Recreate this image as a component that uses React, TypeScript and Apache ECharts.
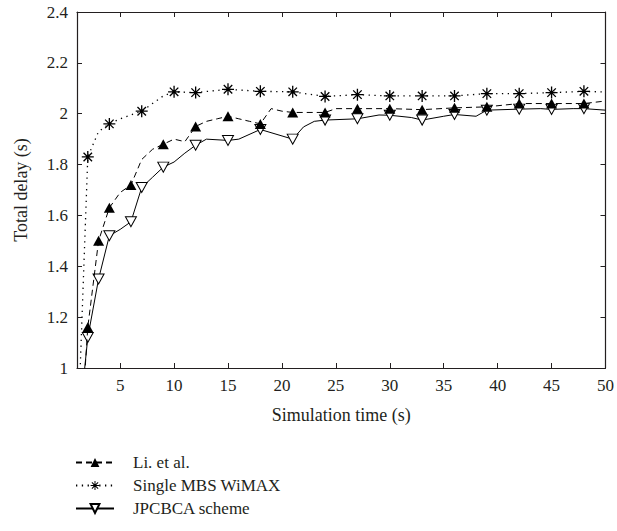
import React, { useEffect, useRef } from "react";
import * as echarts from "echarts";

// ---- data ----
const xTicks = [5, 10, 15, 20, 25, 30, 35, 40, 45, 50];
const yTicks = [1, 1.2, 1.4, 1.6, 1.8, 2, 2.2, 2.4];

const liName = "Li. et al.";
const liX = [1, 2, 3, 4, 5, 6, 7, 8, 9, 10, 11, 12, 13, 14, 15, 16, 17, 18, 19, 20, 21, 24, 25, 27, 30, 33, 36, 39, 42, 45, 48, 50];
const liY = [0.5, 1.16, 1.5, 1.63, 1.69, 1.72, 1.82, 1.86, 1.88, 1.9, 1.89, 1.95, 1.97, 1.98, 1.99, 1.98, 1.97, 1.96, 2.02, 2.01, 2.005, 2.005, 2.02, 2.02, 2.02, 2.016, 2.023, 2.027, 2.04, 2.04, 2.04, 2.05];
const liMarks = [2, 3, 4, 6, 9, 12, 15, 18, 21, 24, 27, 30, 33, 36, 39, 42, 45, 48];

const mbsName = "Single MBS WiMAX";
const mbsX = [1, 2, 3, 4, 5, 6, 7, 8, 9, 10, 12, 15, 18, 21, 24, 27, 30, 33, 36, 39, 42, 45, 48, 50];
const mbsY = [0.65, 1.83, 1.93, 1.96, 1.98, 1.995, 2.01, 2.04, 2.07, 2.086, 2.083, 2.096, 2.088, 2.086, 2.068, 2.075, 2.07, 2.07, 2.07, 2.079, 2.079, 2.083, 2.088, 2.085];
const mbsMarks = [2, 4, 7, 10, 12, 15, 18, 21, 24, 27, 30, 33, 36, 39, 42, 45, 48];

const jpName = "JPCBCA scheme";
const jpX = [1, 2, 3, 4, 5, 6, 7, 8, 9, 10, 11, 12, 13, 15, 16, 18, 21, 22, 23, 24, 27, 29, 30, 32, 33, 35, 36, 38, 39, 42, 44, 45, 47, 48, 50];
const jpY = [0.7, 1.12, 1.35, 1.52, 1.545, 1.575, 1.71, 1.75, 1.79, 1.81, 1.845, 1.876, 1.9, 1.895, 1.9, 1.938, 1.9, 1.948, 1.97, 1.975, 1.98, 1.995, 1.994, 1.985, 1.975, 1.99, 1.997, 1.99, 2.014, 2.018, 2.02, 2.017, 2.02, 2.02, 2.014];
const jpMarks = [2, 3, 4, 6, 7, 9, 12, 15, 18, 21, 24, 27, 30, 33, 36, 39, 42, 45, 48];

const FONT = "Liberation Serif";
const INK = "#231f20";

const ASTERISK =
  "path://M8.9 0L11.1 0L11.1 20L8.9 20Z" +
  "M0 8.9L20 8.9L20 11.1L0 11.1Z" +
  "M2.15 3.71L3.71 2.15L17.85 16.29L16.29 17.85Z" +
  "M16.29 2.15L17.85 3.71L3.71 17.85L2.15 16.29Z" +
  "M7.6 7.6L12.4 7.6L12.4 12.4L7.6 12.4Z";
const DOWN_TRI = "path://M0 0L20 0L10 18Z";

function build(xs: number[], ys: number[], marks: number[]) {
  return xs.map((x, i) =>
    marks.includes(x)
      ? { value: [x, ys[i]] }
      : { value: [x, ys[i]], symbol: "none" }
  );
}

export default function App() {
  const ref = useRef<HTMLDivElement>(null);
  useEffect(() => {
    if (!ref.current) return;
    const chart = echarts.init(ref.current, undefined, { renderer: "svg" });
    const axisLine = { show: true, lineStyle: { color: INK, width: 1.2 } };
    chart.setOption({
      animation: false,
      backgroundColor: "#fff",
      textStyle: { fontFamily: FONT, color: INK },
      grid: { left: 77, right: 11, top: 12, bottom: 163 },
      legend: {
        orient: "vertical",
        left: 75,
        top: 454,
        padding: 0,
        itemWidth: 38,
        itemHeight: 11,
        itemGap: 6,
        data: [liName, mbsName, jpName],
        textStyle: { fontFamily: FONT, fontSize: 17, color: INK, padding: [0, 0, 0, 14] },
      },
      xAxis: [
        {
          type: "value",
          min: 1,
          max: 50,
          position: "bottom",
          axisLine,
          splitLine: { show: false },
          axisTick: { inside: true, length: 5, customValues: xTicks, lineStyle: { color: INK } },
          axisLabel: { customValues: xTicks, fontSize: 17, color: INK, fontFamily: FONT, margin: 9 },
          name: "Simulation time (s)",
          nameLocation: "middle",
          nameGap: 38,
          nameTextStyle: { fontSize: 18, color: INK, fontFamily: FONT },
        },
        {
          type: "value",
          min: 1,
          max: 50,
          position: "top",
          axisLine,
          splitLine: { show: false },
          axisTick: { inside: true, length: 5, customValues: xTicks, lineStyle: { color: INK } },
          axisLabel: { show: false },
        },
      ],
      yAxis: [
        {
          type: "value",
          min: 1,
          max: 2.4,
          interval: 0.2,
          position: "left",
          axisLine,
          splitLine: { show: false },
          axisTick: { inside: true, length: 5, customValues: yTicks, lineStyle: { color: INK } },
          axisLabel: { customValues: yTicks, fontSize: 17, color: INK, fontFamily: FONT, margin: 9 },
          name: "Total delay (s)",
          nameLocation: "middle",
          nameGap: 47,
          nameTextStyle: { fontSize: 18, color: INK, fontFamily: FONT },
        },
        {
          type: "value",
          min: 1,
          max: 2.4,
          interval: 0.2,
          position: "right",
          axisLine,
          splitLine: { show: false },
          axisTick: { inside: true, length: 5, customValues: yTicks, lineStyle: { color: INK } },
          axisLabel: { show: false },
        },
      ],
      series: [
        {
          name: jpName,
          type: "line",
          data: build(jpX, jpY, jpMarks),
          symbol: DOWN_TRI,
          symbolSize: [11, 10],
          showAllSymbol: true,
          lineStyle: { color: "#000", width: 1, type: "solid" },
          itemStyle: { color: "#fff", borderColor: "#000", borderWidth: 1 },
          z: 2,
        },
        {
          name: liName,
          type: "line",
          data: build(liX, liY, liMarks),
          symbol: "triangle",
          symbolSize: [11, 10],
          showAllSymbol: true,
          lineStyle: { color: "#000", width: 1, type: [6, 4] },
          itemStyle: { color: "#000", borderColor: "#000", borderWidth: 0 },
          z: 3,
        },
        {
          name: mbsName,
          type: "line",
          data: build(mbsX, mbsY, mbsMarks),
          symbol: ASTERISK,
          symbolSize: 12,
          showAllSymbol: true,
          lineStyle: { color: "#000", width: 1.3, type: [1.3, 4.5] },
          itemStyle: { color: "#000", borderWidth: 0 },
          z: 4,
        },
      ],
    });
    return () => chart.dispose();
  }, []);
  return (
    <div
      ref={ref}
      style={{ position: "fixed", left: 0, top: 0, width: 617, height: 531 }}
    />
  );
}
